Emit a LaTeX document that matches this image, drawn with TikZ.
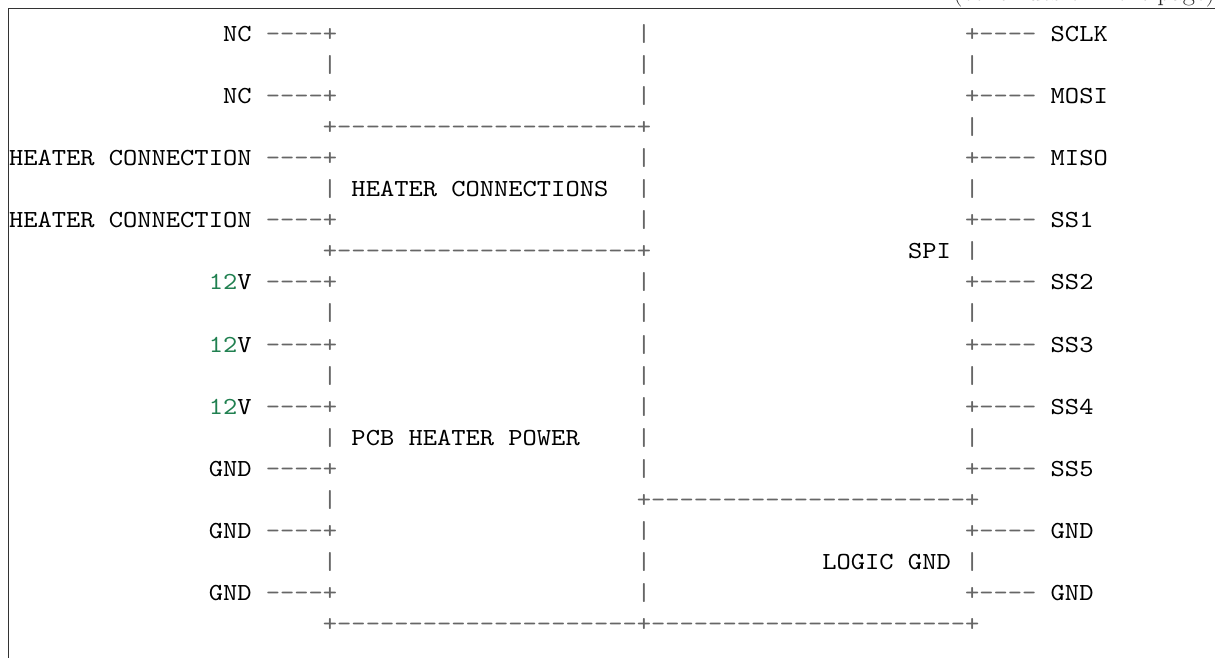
\documentclass[tikz,border=0pt]{standalone}
\usepackage{fontspec}
\usepackage{xcolor}
\newfontfamily\codefont[FakeStretch=1.1094]{lmmono10-regular.otf}
\definecolor{opgrey}{HTML}{666666}
\definecolor{numgreen}{HTML}{208050}
\definecolor{framec}{HTML}{333333}
\newdimen\cwd \cwd=14.27pt
\newcommand\bl[1]{\hspace*{#1\cwd}}
\newcommand\tk[2]{\makebox[#1\cwd][l]{#2}}
\newcommand\ch[1]{\makebox[\cwd][c]{#1}}
\newcommand\dsh[1]{\ifnum#1>0 \ch{-}\expandafter\dsh\expandafter{\number\numexpr#1-1\relax}\fi}
\newcommand\pl{\textcolor{opgrey}{\ch{+}}}
\newcommand\vb{\textcolor{opgrey}{\ch{|}}}
\newcommand\ds[1]{\textcolor{opgrey}{\dsh{#1}}}
\newcommand\twelve{\textcolor{numgreen}{12}V}
% row pieces
\newcommand\Lpin[1]{\makebox[17\cwd][r]{#1}\bl{1}\ds{4}\pl}
\newcommand\Lbar{\bl{22}\vb}
\newcommand\Lcorner{\bl{22}\pl}
\newcommand\Mbar{\bl{21}\vb}
\newcommand\Mline{\ds{21}\pl}
\newcommand\Rpin[1]{\bl{22}\pl\ds{4}\bl{1}#1}
\newcommand\Rbar{\bl{22}\vb}
\newcommand\Rline{\ds{22}\pl}
\begin{document}
\begin{tikzpicture}[x=1pt,y=1pt,
  rowtext/.style={anchor=base west, inner sep=0pt, outer sep=0pt,
    font=\fontsize{24.5}{30}\codefont},
  conttext/.style={anchor=base west, inner sep=0pt, text=black!85,
    font=\fontsize{26.5}{30}\selectfont},
  framel/.style={draw=framec, line width=1pt}]
\useasboundingbox (0,0) rectangle (1215,-657);
\begin{scope}
\clip (0,0) rectangle (1215,-657);
\node[conttext] (cont) at (953,0) {(continues on next page)};
\coordinate (fbl) at (8,-660);
\coordinate (ftl) at (8,-8);
\coordinate (ftr) at (1218,-8);
\draw[framel] (fbl) -- (ftl) -- (ftr);
\def\bx{9}
\def\by{41}
\def\rh{31.1}
\node[rowtext] (r0)  at (\bx,{-\by-0*\rh})  {\Lpin{NC}\Mbar\Rpin{SCLK}};
\node[rowtext] (r1)  at (\bx,{-\by-1*\rh})  {\Lbar\Mbar\Rbar};
\node[rowtext] (r2)  at (\bx,{-\by-2*\rh})  {\Lpin{NC}\Mbar\Rpin{MOSI}};
\node[rowtext] (r3)  at (\bx,{-\by-3*\rh})  {\Lcorner\Mline\Rbar};
\node[rowtext] (r4)  at (\bx,{-\by-4*\rh})  {\Lpin{HEATER CONNECTION}\Mbar\Rpin{MISO}};
\node[rowtext] (r5)  at (\bx,{-\by-5*\rh})  {\Lbar\bl{1}\tk{20}{HEATER CONNECTIONS}\vb\Rbar};
\node[rowtext] (r6)  at (\bx,{-\by-6*\rh})  {\Lpin{HEATER CONNECTION}\Mbar\Rpin{SS1}};
\node[rowtext] (r7)  at (\bx,{-\by-7*\rh})  {\Lcorner\Mline\makebox[21\cwd][r]{SPI}\bl{1}\vb};
\node[rowtext] (r8)  at (\bx,{-\by-8*\rh})  {\Lpin{\twelve}\Mbar\Rpin{SS2}};
\node[rowtext] (r9)  at (\bx,{-\by-9*\rh})  {\Lbar\Mbar\Rbar};
\node[rowtext] (r10) at (\bx,{-\by-10*\rh}) {\Lpin{\twelve}\Mbar\Rpin{SS3}};
\node[rowtext] (r11) at (\bx,{-\by-11*\rh}) {\Lbar\Mbar\Rbar};
\node[rowtext] (r12) at (\bx,{-\by-12*\rh}) {\Lpin{\twelve}\Mbar\Rpin{SS4}};
\node[rowtext] (r13) at (\bx,{-\by-13*\rh}) {\Lbar\bl{1}\tk{20}{PCB HEATER POWER}\vb\Rbar};
\node[rowtext] (r14) at (\bx,{-\by-14*\rh}) {\Lpin{GND}\Mbar\Rpin{SS5}};
\node[rowtext] (r15) at (\bx,{-\by-15*\rh}) {\Lbar\bl{21}\pl\Rline};
\node[rowtext] (r16) at (\bx,{-\by-16*\rh}) {\Lpin{GND}\Mbar\Rpin{GND}};
\node[rowtext] (r17) at (\bx,{-\by-17*\rh}) {\Lbar\Mbar\makebox[21\cwd][r]{LOGIC GND}\bl{1}\vb};
\node[rowtext] (r18) at (\bx,{-\by-18*\rh}) {\Lpin{GND}\Mbar\Rpin{GND}};
\node[rowtext] (r19) at (\bx,{-\by-19*\rh}) {\Lcorner\Mline\Rline};
\end{scope}
\end{tikzpicture}
\end{document}
